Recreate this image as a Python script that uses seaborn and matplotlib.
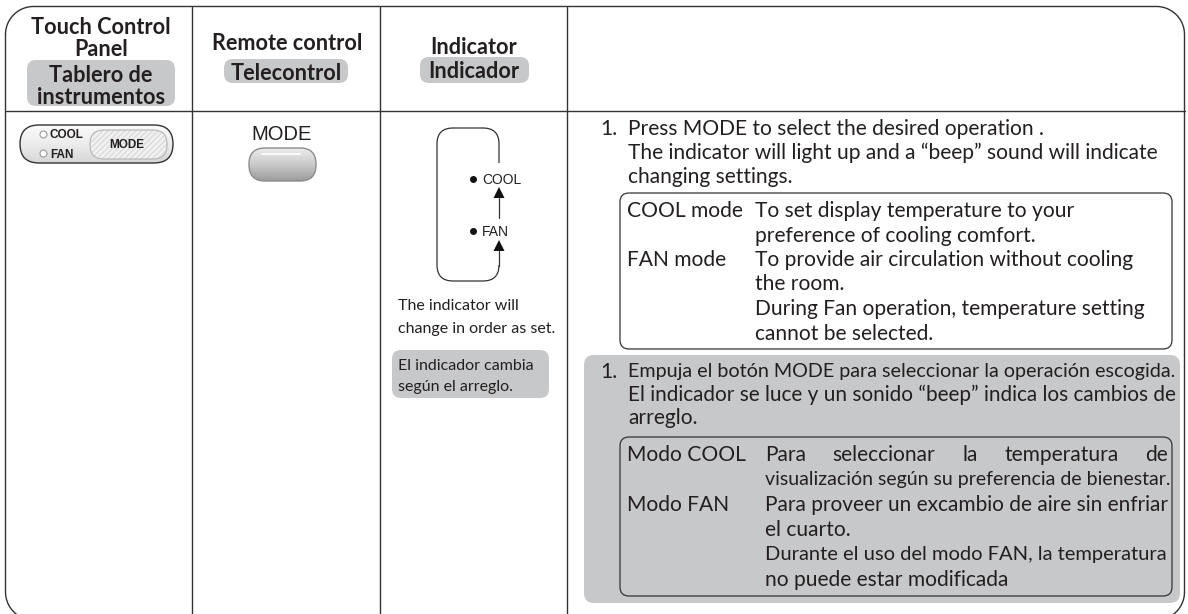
import numpy as np
import seaborn as sns
import matplotlib
import matplotlib.pyplot as plt
from matplotlib.patches import FancyBboxPatch, Polygon, Rectangle
from matplotlib.colors import LinearSegmentedColormap

matplotlib.use("Agg")

# Header texts (English on white, Spanish on grey chips)
header_en = ["Touch Control", "Panel", "Remote control", "Indicator"]
header_es = ["Tablero de", "instrumentos", "Telecontrol", "Indicador"]

# Panel / remote / indicator labels
panel_leds = ["COOL", "FAN"]
button_label = "MODE"
indicator_modes = ["COOL", "FAN"]
indicator_note_en = ["The indicator will", "change in order as set."]
indicator_note_es = ["El indicador cambia", "según el arreglo."]

# Instruction column
step_no = "1."
steps_en = [
    "Press MODE to select the desired operation .",
    "The indicator will light up and a “beep” sound will indicate",
    "changing settings.",
]
modes_en = ["COOL mode", "FAN mode"]
mode_text_en = [
    ["To set display temperature to your", "preference of cooling comfort."],
    ["To provide air circulation without cooling", "the room.",
     "During Fan operation, temperature setting", "cannot be selected."],
]
steps_es = [
    "Empuja el botón MODE para seleccionar la operación escogida.",
    "El indicador se luce y un sonido “beep” indica los cambios de",
    "arreglo.",
]
modes_es = ["Modo COOL", "Modo FAN"]
mode_text_es = [
    ["Para seleccionar la temperatura de", "visualización según su preferencia de bienestar."],
    ["Para proveer un excambio de aire sin enfriar", "el cuarto.",
     "Durante el uso del modo FAN, la temperatura", "no puede estar modificada"],
]

sns.set_theme(style="white")
plt.rcParams["font.family"] = ["Lato", "DejaVu Sans"]

INK = "#231f20"
LINE = "#333333"
GREY = "#c7c8ca"

fig = plt.figure(figsize=(11.88, 6.14), dpi=100)
ax = fig.add_axes([0, 0, 1, 1])
renderer = fig.canvas.get_renderer()


def set_limits():
    ax.set_xlim(0, 1188)
    ax.set_ylim(614, 0)
    ax.axis("off")


set_limits()


def rbox(x0, y0, x1, y1, r, **kw):
    p = FancyBboxPatch((x0, y0), x1 - x0, y1 - y0,
                       boxstyle=f"round,pad=0,rounding_size={r}", **kw)
    ax.add_patch(p)
    return p


def rounded_outline(x0, y0, x1, y1, r, **kw):
    """Closed rounded-rectangle outline drawn as a polyline."""
    t = np.linspace(0, np.pi / 2, 20)
    xs, ys = [], []
    # top-left, top-right, bottom-right, bottom-left (y grows downward)
    for cx, cy, a0 in [(x0 + r, y0 + r, np.pi), (x1 - r, y0 + r, 1.5 * np.pi),
                       (x1 - r, y1 - r, 0.0), (x0 + r, y1 - r, 0.5 * np.pi)]:
        xs.extend(cx + r * np.cos(a0 + t))
        ys.extend(cy + r * np.sin(a0 + t))
    xs.append(xs[0])
    ys.append(ys[0])
    ax.plot(xs, ys, **kw)


def width_of(s, size, **kw):
    t = ax.text(0, 0, s, fontsize=size, **kw)
    w = t.get_window_extent(renderer=renderer).width
    t.remove()
    return w


def fit_size(s, target, base=12, **kw):
    return base * target / width_of(s, base, **kw)


def put(x, y, s, size, ha="left", **kw):
    kw.setdefault("color", INK)
    return ax.text(x, y, s, fontsize=size, ha=ha, va="center_baseline", **kw)


def justify(x0, x1, y, s, size, **kw):
    words = s.split(" ")
    widths = [width_of(w, size, **kw) for w in words]
    natural = width_of(s, size, **kw)
    avail = x1 - x0
    if natural >= avail or len(words) < 2:
        put(x0, y, s, size * min(1, avail / natural), **kw)
        return
    gap = (avail - sum(widths)) / (len(words) - 1)
    x = x0
    for w, ww in zip(words, widths):
        put(x, y, w, size, **kw)
        x += ww + gap


# ---- outer frame and grid ----
rounded_outline(5.5, 6.5, 1184.5, 620, 28, color=LINE, lw=1.0, zorder=3)
for cx in [192, 380, 567]:
    ax.plot([cx, cx], [6.5, 622], color=LINE, lw=1.0, zorder=3)
ax.plot([5.5, 1184.5], [111, 111], color=LINE, lw=1.0, zorder=3)

# ---- headers ----
hsize = fit_size(header_en[0], 138, weight="bold")
put(101, 26, header_en[0], hsize, ha="center", weight="bold")
put(101, 48, header_en[1], hsize, ha="center", weight="bold")
rbox(27, 60, 175, 106, 9, fc=GREY, ec="none")
put(101, 74, header_es[0], hsize, ha="center", weight="bold")
put(101, 96, header_es[1], hsize, ha="center", weight="bold")

put(287, 41, header_en[2], hsize, ha="center", weight="bold")
rbox(224, 59, 348, 83, 9, fc=GREY, ec="none")
put(286, 71, header_es[2], hsize, ha="center", weight="bold")

put(474, 46, header_en[3], hsize, ha="center", weight="bold")
rbox(420, 57, 529, 83, 9, fc=GREY, ec="none")
put(474, 70, header_es[3], hsize, ha="center", weight="bold")

# ---- touch control panel ----
panel = rbox(20, 125, 173, 163, 19, fc="none", ec=LINE, lw=1.0, zorder=5)
pgrad = np.linspace(0, 1, 64).reshape(-1, 1)
pcmap = LinearSegmentedColormap.from_list("pnl", ["#fafafa", "#ececec", "#d6d6d6"])
pim = ax.imshow(pgrad, extent=(20, 173, 163, 125), cmap=pcmap, aspect="auto", zorder=4)
pim.set_clip_path(panel)
rbox(90, 130, 167, 159, 14, fc="#f1f1f1", ec="none", zorder=4)
rbox(90, 130, 167, 159, 14, fc="none", ec="#dcdcdc", lw=0, hatch="//////", zorder=4)
rbox(90, 130, 167, 159, 14, fc="none", ec="#b5b5b5", lw=0.8, zorder=5)
for y, lab in zip([134, 153], panel_leds):
    ax.plot(43, y, "o", ms=5, mfc="white", mec="#9a9a9a", mew=0.8, zorder=6)
    put(50, y, lab, 8.5, family="Liberation Sans", weight="bold", zorder=6)
put(127, 144, button_label, 8.5, ha="center", family="Liberation Sans", weight="bold", zorder=6)

# ---- remote control button ----
put(282, 133, button_label, 14.5, ha="center", family="Liberation Sans")
btn = rbox(249, 148, 316, 181, 16, fc="none", ec="#8c8c8c", lw=1.0, zorder=5)
grad = np.linspace(0, 1, 64).reshape(-1, 1)
cmap = LinearSegmentedColormap.from_list("btn", ["#ededed", "#c9c9c9", "#9c9c9c"])
im = ax.imshow(grad, extent=(249, 316, 181, 148), cmap=cmap, aspect="auto", zorder=4)
im.set_clip_path(btn)
ax.plot([262, 300], [154, 154], color="white", lw=1.4, alpha=0.85, zorder=5,
        solid_capstyle="round")
set_limits()

# ---- indicator diagram ----
rbox(437, 128, 499, 281, 16, fc="none", ec=LINE, lw=0.9, zorder=3)
ax.add_patch(Rectangle((494, 163), 10, 102, fc="white", ec="none", zorder=4))
ax.plot([499, 499], [198, 218], color=LINE, lw=0.9, zorder=5)
ax.plot([499, 499], [251, 266], color=LINE, lw=0.9, zorder=5)
for tip in [187, 240]:
    ax.add_patch(Polygon([[499, tip], [493.5, tip + 11], [504.5, tip + 11]],
                         closed=True, fc="#111111", ec="none", zorder=5))
for y, lab in zip([179, 231], indicator_modes):
    ax.plot(473, y, "o", ms=4, color="#111111", zorder=6)
    put(482, y, lab, 10, family="Liberation Sans", zorder=6)

nsize = fit_size(indicator_note_en[1], 157)
put(398, 305, indicator_note_en[0], nsize)
put(398, 327, indicator_note_en[1], nsize)
rbox(392, 350, 549, 398, 9, fc=GREY, ec="none")
put(398, 364, indicator_note_es[0], nsize)
put(398, 386, indicator_note_es[1], nsize)

# ---- instructions: English ----
bsize = fit_size(steps_en[1], 530)
put(600, 127, step_no, bsize)
for y, s in zip([127, 151, 175], steps_en):
    put(628, y, s, bsize)
rbox(620, 193, 1172, 349, 9, fc="white", ec=LINE, lw=0.9, zorder=3)
rows = [209, 233.5, 258, 282.5, 307, 331.5]
desc_x = 627 + max(width_of(m, bsize) for m in modes_en) + 12
i = 0
for label, lines in zip(modes_en, mode_text_en):
    put(627, rows[i], label, bsize, zorder=4)
    for s in lines:
        put(desc_x, rows[i], s, bsize, zorder=4)
        i += 1

# ---- instructions: Spanish (grey block) ----
rbox(584, 355, 1180, 603, 10, fc=GREY, ec="none", zorder=2)
put(600, 370, step_no, bsize, zorder=4)
justify(628, 1174, 370, steps_es[0], bsize, zorder=4)
justify(628, 1174, 393, steps_es[1], bsize, zorder=4)
put(628, 416, steps_es[2], bsize, zorder=4)
rbox(620, 437, 1172, 596, 9, fc="none", ec=LINE, lw=0.9, zorder=3)
rows = [453, 478, 503, 528, 553, 578]
justified = [True, True, True, False, True, False]
i = 0
for label, lines in zip(modes_es, mode_text_es):
    put(627, rows[i], label, bsize, zorder=4)
    for s in lines:
        if justified[i]:
            justify(765, 1168, rows[i], s, bsize, zorder=4)
        else:
            put(765, rows[i], s, bsize, zorder=4)
        i += 1

fig.savefig("out.png", dpi=100)
plt.close(fig)
